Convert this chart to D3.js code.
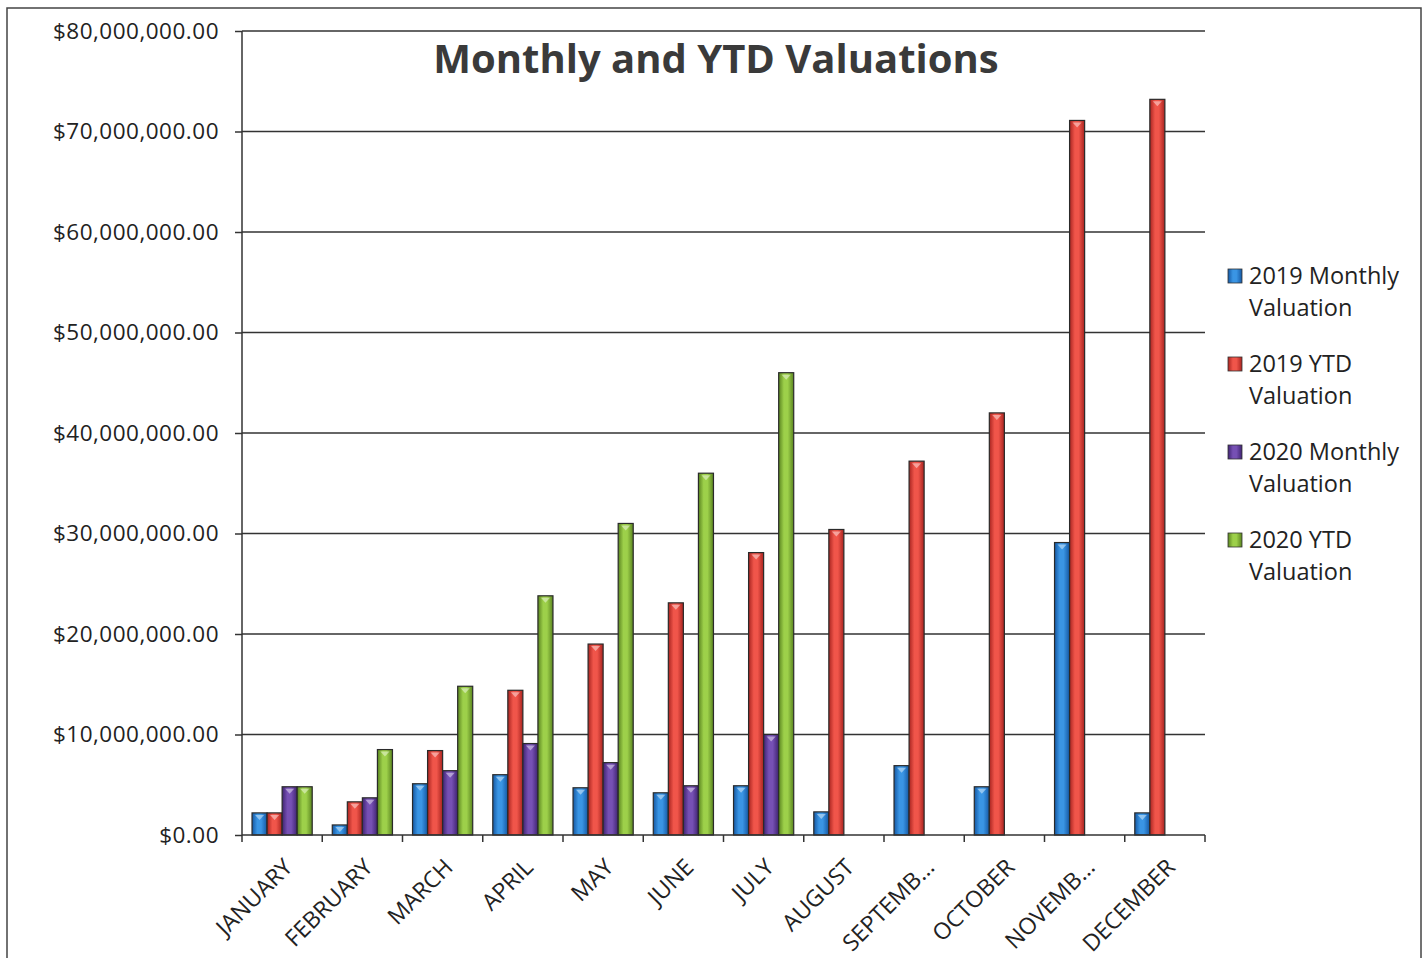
<!DOCTYPE html>
<html>
<head>
<meta charset="utf-8">
<script src="https://cdn.jsdelivr.net/npm/d3@7"></script>
<style>
  body { margin: 0; background: #fff; }
  svg { display: block; font-family: "Open Sans", sans-serif; }
  .axis path, .axis line { stroke: #333; stroke-width: 1.5; }
  .axis text { fill: #222; font-family: "Open Sans", sans-serif; }
</style>
</head>
<body>
<div id="chart"></div>
<script>
// data
var months = ["JANUARY", "FEBRUARY", "MARCH", "APRIL", "MAY", "JUNE", "JULY",
    "AUGUST", "SEPTEMB...", "OCTOBER", "NOVEMB...", "DECEMBER"];
var seriesNames = ["2019 Monthly Valuation", "2019 YTD Valuation",
    "2020 Monthly Valuation", "2020 YTD Valuation"];
var monthly2019 = [2.2, 1.0, 5.1, 6.0, 4.7, 4.2, 4.9, 2.3, 6.9, 4.8, 29.1, 2.2];
var ytd2019 = [2.2, 3.3, 8.4, 14.4, 19.0, 23.1, 28.1, 30.4, 37.2, 42.0, 71.1, 73.2];
var monthly2020 = [4.8, 3.7, 6.4, 9.1, 7.2, 4.9, 10.0, null, null, null, null, null];
var ytd2020 = [4.8, 8.5, 14.8, 23.8, 31.0, 36.0, 46.0, null, null, null, null, null];
var yTicks = [0, 10, 20, 30, 40, 50, 60, 70, 80]; // millions

var drawChart = (function () {
    var width = 1428, height = 958;
    var plot = {left: 242, right: 1205, top: 31, bottom: 835};
    var colors = [
        {mid: "#3a95e4", edge: "#1558a3"},
        {mid: "#f0554a", edge: "#a82420"},
        {mid: "#7650b4", edge: "#3f2371"},
        {mid: "#9dd04a", edge: "#5a8420"}
    ];

    var svg = d3.select("#chart").append("svg")
        .attr("width", width)
        .attr("height", height);

    // gradients for the round bar look
    var defs = svg.append("defs");
    colors.forEach(function (c, i) {
        var g = defs.append("linearGradient")
            .attr("id", "grad" + i)
            .attr("x1", "0%").attr("x2", "100%")
            .attr("y1", "0%").attr("y2", "0%");
        g.append("stop").attr("offset", "0%").attr("stop-color", c.edge);
        g.append("stop").attr("offset", "35%").attr("stop-color", c.mid);
        g.append("stop").attr("offset", "60%").attr("stop-color", c.mid);
        g.append("stop").attr("offset", "100%").attr("stop-color", c.edge);
    });

    // outer frame
    svg.append("rect")
        .attr("x", 7).attr("y", 8)
        .attr("width", 1414).attr("height", 960)
        .attr("fill", "none")
        .attr("stroke", "#444")
        .attr("stroke-width", 1.5);

    var x0 = d3.scaleBand()
        .domain(months)
        .range([plot.left, plot.right])
        .paddingInner(0.25)
        .paddingOuter(0.125);
    var x1 = d3.scaleBand()
        .domain(d3.range(seriesNames.length))
        .range([0, x0.bandwidth()]);
    var y = d3.scaleLinear()
        .domain([0, 80])
        .range([plot.bottom, plot.top]);

    // gridlines
    svg.append("g").selectAll("line")
        .data(yTicks.slice(1))
        .enter().append("line")
        .attr("x1", plot.left).attr("x2", plot.right)
        .attr("y1", function (d) { return y(d); })
        .attr("y2", function (d) { return y(d); })
        .attr("stroke", "#333")
        .attr("stroke-width", 1.5);

    // bars
    var table = months.map(function (m, i) {
        return {month: m, values: [monthly2019[i], ytd2019[i], monthly2020[i], ytd2020[i]]};
    });
    var groups = svg.append("g").selectAll("g")
        .data(table)
        .enter().append("g")
        .attr("transform", function (d) { return "translate(" + x0(d.month) + ",0)"; });

    groups.selectAll("rect")
        .data(function (d) {
            return d.values.map(function (v, i) { return {s: i, v: v}; })
                .filter(function (e) { return e.v != null; });
        })
        .enter().append("rect")
        .attr("x", function (d) { return x1(d.s); })
        .attr("width", x1.bandwidth())
        .attr("y", function (d) { return y(d.v); })
        .attr("height", function (d) { return y(0) - y(d.v); })
        .attr("fill", function (d) { return "url(#grad" + d.s + ")"; })
        .attr("stroke", "#2a2a2a")
        .attr("stroke-width", 1.2);

    // small light cap on top of each bar
    groups.selectAll("path.cap")
        .data(function (d) {
            return d.values.map(function (v, i) { return {s: i, v: v}; })
                .filter(function (e) { return e.v != null && e.v > 0; });
        })
        .enter().append("path")
        .attr("class", "cap")
        .attr("d", function (d) {
            var bx = x1(d.s), bw = x1.bandwidth(), by = y(d.v);
            return "M" + (bx + 3) + "," + (by + 2) + "L" + (bx + bw - 3) + "," + (by + 2) +
                "L" + (bx + bw / 2) + "," + (by + 7) + "Z";
        })
        .attr("fill", "#fff")
        .attr("opacity", 0.45);

    // y axis
    svg.append("g")
        .attr("class", "axis")
        .attr("transform", "translate(" + plot.left + ",0)")
        .call(d3.axisLeft(y)
            .tickValues(yTicks)
            .tickSize(7)
            .tickPadding(16)
            .tickFormat(function (d) { return "$" + d3.format(",.2f")(d * 1000000); }))
        .call(function (g) { g.select(".domain").attr("d", "M0," + plot.top + "V" + plot.bottom); })
        .selectAll("text")
        .style("font-size", "22.5px")
        .style("letter-spacing", "0.5px");

    // x axis with ticks at category borders
    var xAxis = svg.append("g")
        .attr("class", "axis")
        .attr("transform", "translate(0," + plot.bottom + ")");
    xAxis.append("path")
        .attr("d", "M" + plot.left + ",0H" + plot.right);
    var step = x0.step();
    xAxis.selectAll("line")
        .data(months.concat(["end"]))
        .enter().append("line")
        .attr("x1", function (d, i) { return plot.left + i * step; })
        .attr("x2", function (d, i) { return plot.left + i * step; })
        .attr("y1", 0).attr("y2", 7);
    xAxis.selectAll("text")
        .data(months)
        .enter().append("text")
        .attr("transform", function (d) {
            return "translate(" + (x0(d) + x0.bandwidth() / 2 + 6) + ",28) rotate(-45)";
        })
        .attr("text-anchor", "end")
        .attr("dy", "0.35em")
        .style("font-size", "23px")
        .text(function (d) { return d; });

    // title
    svg.append("text")
        .attr("x", 716).attr("y", 73)
        .attr("text-anchor", "middle")
        .style("font-size", "40px")
        .style("font-weight", "bold")
        .attr("fill", "#3a3a3a")
        .text("Monthly and YTD Valuations");

    // legend
    var legend = svg.append("g").selectAll("g")
        .data(seriesNames)
        .enter().append("g")
        .attr("transform", function (d, i) { return "translate(1228," + (266 + i * 88) + ")"; });
    legend.append("rect")
        .attr("width", 14).attr("height", 14)
        .attr("y", 3)
        .attr("fill", function (d, i) { return "url(#grad" + i + ")"; })
        .attr("stroke", "#333")
        .attr("stroke-width", 0.8);
    legend.append("text")
        .attr("x", 21).attr("y", 18)
        .style("font-size", "23.5px")
        .attr("fill", "#222")
        .each(function (d) {
            var words = d.split(" ");
            var t = d3.select(this);
            t.append("tspan").attr("x", 21).text(words.slice(0, 2).join(" "));
            t.append("tspan").attr("x", 21).attr("dy", 32).text(words.slice(2).join(" "));
        });
})();
</script>
</body>
</html>
